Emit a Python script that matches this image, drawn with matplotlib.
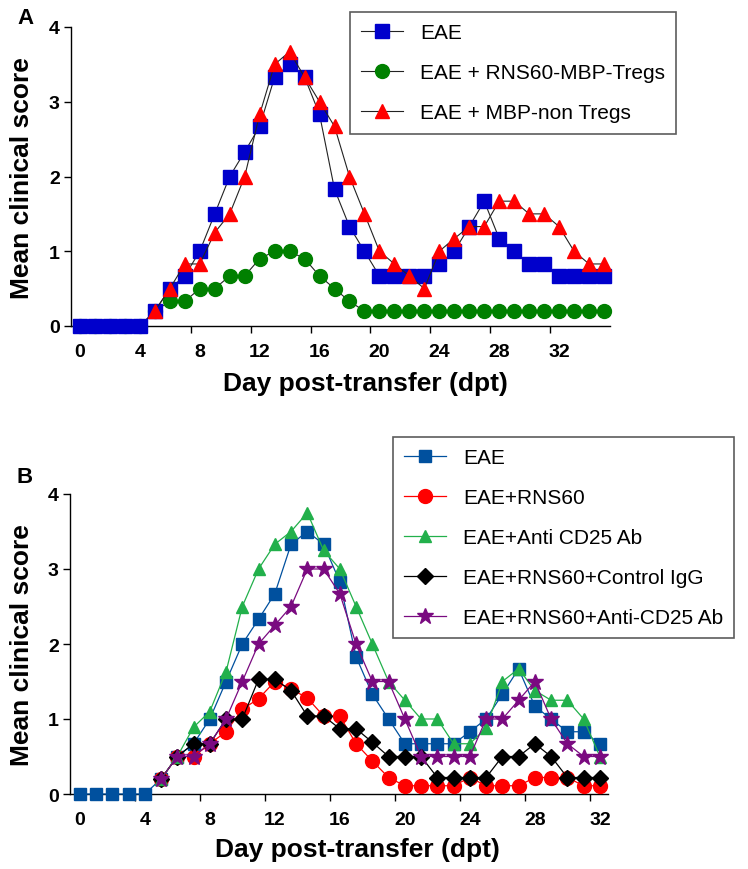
import numpy as np
import matplotlib
matplotlib.use("Agg")
import matplotlib.pyplot as plt

plt.rcParams["font.family"] = ["Liberation Sans", "DejaVu Sans"]

# ---- panel A data (day post-transfer, mean clinical score) ----
days_a = list(range(0, 36))
days_a_late = list(range(5, 36))
eae_a = [0, 0, 0, 0, 0, 0.2, 0.5, 0.67, 1.0, 1.5,
         2.0, 2.33, 2.67, 3.33, 3.5, 3.33, 2.83, 1.83, 1.33, 1.0,
         0.67, 0.67, 0.67, 0.67, 0.83, 1.0, 1.33, 1.67, 1.17, 1.0,
         0.83, 0.83, 0.67, 0.67, 0.67, 0.67]
tregs_a = [0, 0, 0, 0, 0, 0.2, 0.33, 0.33, 0.5, 0.5,
           0.67, 0.67, 0.9, 1.0, 1.0, 0.9, 0.67, 0.5, 0.33, 0.2,
           0.2, 0.2, 0.2, 0.2, 0.2, 0.2, 0.2, 0.2, 0.2, 0.2,
           0.2, 0.2, 0.2, 0.2, 0.2, 0.2]
nontregs_a = [0.2, 0.5, 0.83, 0.83, 1.25,
              1.5, 2.0, 2.83, 3.5, 3.67, 3.33, 3.0, 2.67, 2.0, 1.5,
              1.0, 0.83, 0.67, 0.5, 1.0, 1.17, 1.33, 1.33, 1.67, 1.67,
              1.5, 1.5, 1.33, 1.0, 0.83, 0.83]
labels_a = ["EAE", "EAE + RNS60-MBP-Tregs", "EAE + MBP-non Tregs"]

# ---- panel B data ----
days_b = list(range(0, 33))
days_b_late = list(range(5, 33))
eae_b = [0, 0, 0, 0, 0, 0.2, 0.5, 0.67, 1.0, 1.5,
         2.0, 2.33, 2.67, 3.33, 3.5, 3.33, 2.83, 1.83, 1.33, 1.0,
         0.67, 0.67, 0.67, 0.67, 0.83, 1.0, 1.33, 1.67, 1.17, 1.0,
         0.83, 0.83, 0.67]
rns60_b = [0.2, 0.5, 0.5, 0.67, 0.83,
           1.13, 1.27, 1.5, 1.4, 1.28, 1.04, 1.04, 0.67, 0.44, 0.22,
           0.11, 0.11, 0.11, 0.11, 0.22, 0.11, 0.11, 0.11, 0.22, 0.22,
           0.22, 0.11, 0.11]
anticd25_b = [0.2, 0.5, 0.89, 1.1, 1.63,
              2.5, 3.0, 3.33, 3.5, 3.75, 3.25, 3.0, 2.5, 2.0, 1.5,
              1.25, 1.0, 1.0, 0.67, 0.67, 0.88, 1.5, 1.67, 1.38, 1.25,
              1.25, 1.0, 0.5]
igg_b = [0.2, 0.5, 0.67, 0.67, 1.0,
         1.0, 1.53, 1.53, 1.38, 1.04, 1.04, 0.87, 0.87, 0.69, 0.5,
         0.5, 0.5, 0.22, 0.22, 0.22, 0.22, 0.5, 0.5, 0.67, 0.5,
         0.22, 0.22, 0.22]
rns60_anti_b = [0.2, 0.5, 0.5, 0.67, 1.0,
                1.5, 2.0, 2.25, 2.5, 3.0, 3.0, 2.67, 2.0, 1.5, 1.5,
                1.0, 0.5, 0.5, 0.5, 0.5, 1.0, 1.0, 1.25, 1.5, 1.0,
                0.67, 0.5, 0.5]
labels_b = ["EAE", "EAE+RNS60", "EAE+Anti CD25 Ab",
            "EAE+RNS60+Control IgG", "EAE+RNS60+Anti-CD25 Ab"]

xticks_a = [0, 4, 8, 12, 16, 20, 24, 28, 32]
xticks_b = [0, 4, 8, 12, 16, 20, 24, 28, 32]
yticks = [0, 1, 2, 3, 4]

W, H = 748, 870
TICK_SHIFT = -0.6   # tick marks sit a bit left of their labels in the original


def px_rect(left, top, right, bottom):
    return [left / W, 1 - bottom / H, (right - left) / W, (bottom - top) / H]


def style_axes(ax, xmax, xticks):
    for s in ["top", "right"]:
        ax.spines[s].set_visible(False)
    for s in ["left", "bottom"]:
        ax.spines[s].set_linewidth(1.0)
    ax.set_xlim(-0.6, xmax)
    ax.set_ylim(0, 4)
    ax.set_yticks(yticks)
    ax.set_yticklabels([str(v) for v in yticks], fontsize=14, fontweight="bold")
    ax.set_xticks(np.array(xticks[1:]) + TICK_SHIFT)
    ax.set_xticklabels([])
    ax.set_xticks(xticks, minor=True)
    ax.set_xticklabels([str(v) for v in xticks], minor=True,
                       fontsize=14, fontweight="bold")
    ax.tick_params(axis="x", which="major", length=5, width=1, direction="out")
    ax.tick_params(axis="x", which="minor", length=0, pad=12)
    ax.tick_params(axis="y", length=5, width=1, pad=3)


def add_legend(ax, order, anchor):
    h, l = ax.get_legend_handles_labels()
    leg = ax.legend([h[i] for i in order], [l[i] for i in order],
                    loc="upper left", bbox_to_anchor=anchor,
                    bbox_transform=fig.transFigure, fontsize=15, numpoints=1,
                    handlelength=2.0, handletextpad=0.8, labelspacing=1.0,
                    borderpad=0.55, borderaxespad=0, fancybox=False)
    leg.get_frame().set_edgecolor("#333333")
    leg.get_frame().set_linewidth(1.2)


fig = plt.figure(figsize=(W / 100, H / 100), dpi=100)

# ---------------- panel A ----------------
ax1 = fig.add_axes(px_rect(71, 28, 610, 327))
ax1.plot(days_a, tregs_a, color="#222222", lw=0.8, marker="o", ms=10,
         mfc="#008000", mec="#008000", clip_on=False, zorder=3, label=labels_a[1])
ax1.plot(days_a, eae_a, color="#222222", lw=0.8, marker="s", ms=9.5,
         mfc="#0000CC", mec="#0000CC", clip_on=False, zorder=4, label=labels_a[0])
ax1.plot(days_a_late, nontregs_a, color="#222222", lw=0.8, marker="^", ms=10.5,
         mfc="#FF0000", mec="#FF0000", clip_on=False, zorder=5, label=labels_a[2])
style_axes(ax1, 35.4, xticks_a)
add_legend(ax1, [1, 0, 2], (350 / W, 1 - 13 / H))

fig.text(365 / W, 1 - 384 / H, "Day post-transfer (dpt)", ha="center",
         va="center", fontsize=19, fontweight="bold")
fig.text(22 / W, 1 - 178 / H, "Mean clinical score", ha="center",
         va="center", rotation=90, fontsize=19, fontweight="bold")
fig.text(25 / W, 1 - 18 / H, "A", ha="center", va="center",
         fontsize=16, fontweight="bold")

# ---------------- panel B ----------------
ax2 = fig.add_axes(px_rect(70, 495, 608, 795))
ax2.plot(days_b, eae_b, color="#00509E", lw=0.9, marker="s", ms=9,
         mfc="#00509E", mec="#00509E", clip_on=False, zorder=3, label=labels_b[0])
ax2.plot(days_b_late, rns60_b, color="#FF0000", lw=0.9, marker="o", ms=10,
         mfc="#FF0000", mec="#FF0000", clip_on=False, zorder=4, label=labels_b[1])
ax2.plot(days_b_late, igg_b, color="#000000", lw=0.9, marker="D", ms=8,
         mfc="#000000", mec="#000000", clip_on=False, zorder=5, label=labels_b[3])
ax2.plot(days_b_late, anticd25_b, color="#22B04B", lw=0.9, marker="^", ms=9,
         mfc="#22B04B", mec="#22B04B", clip_on=False, zorder=6, label=labels_b[2])
ax2.plot(days_b_late, rns60_anti_b, color="#7A0A80", lw=0.9, marker="*", ms=12,
         mfc="#7A0A80", mec="#7A0A80", clip_on=False, zorder=7, label=labels_b[4])
style_axes(ax2, 32.5, xticks_b)
add_legend(ax2, [0, 1, 3, 2, 4], (393 / W, 1 - 438 / H))

fig.text(357 / W, 1 - 850 / H, "Day post-transfer (dpt)", ha="center",
         va="center", fontsize=19, fontweight="bold")
fig.text(22 / W, 1 - 645 / H, "Mean clinical score", ha="center",
         va="center", rotation=90, fontsize=19, fontweight="bold")
fig.text(25 / W, 1 - 478 / H, "B", ha="center", va="center",
         fontsize=16, fontweight="bold")

fig.savefig("out.png", dpi=100)
